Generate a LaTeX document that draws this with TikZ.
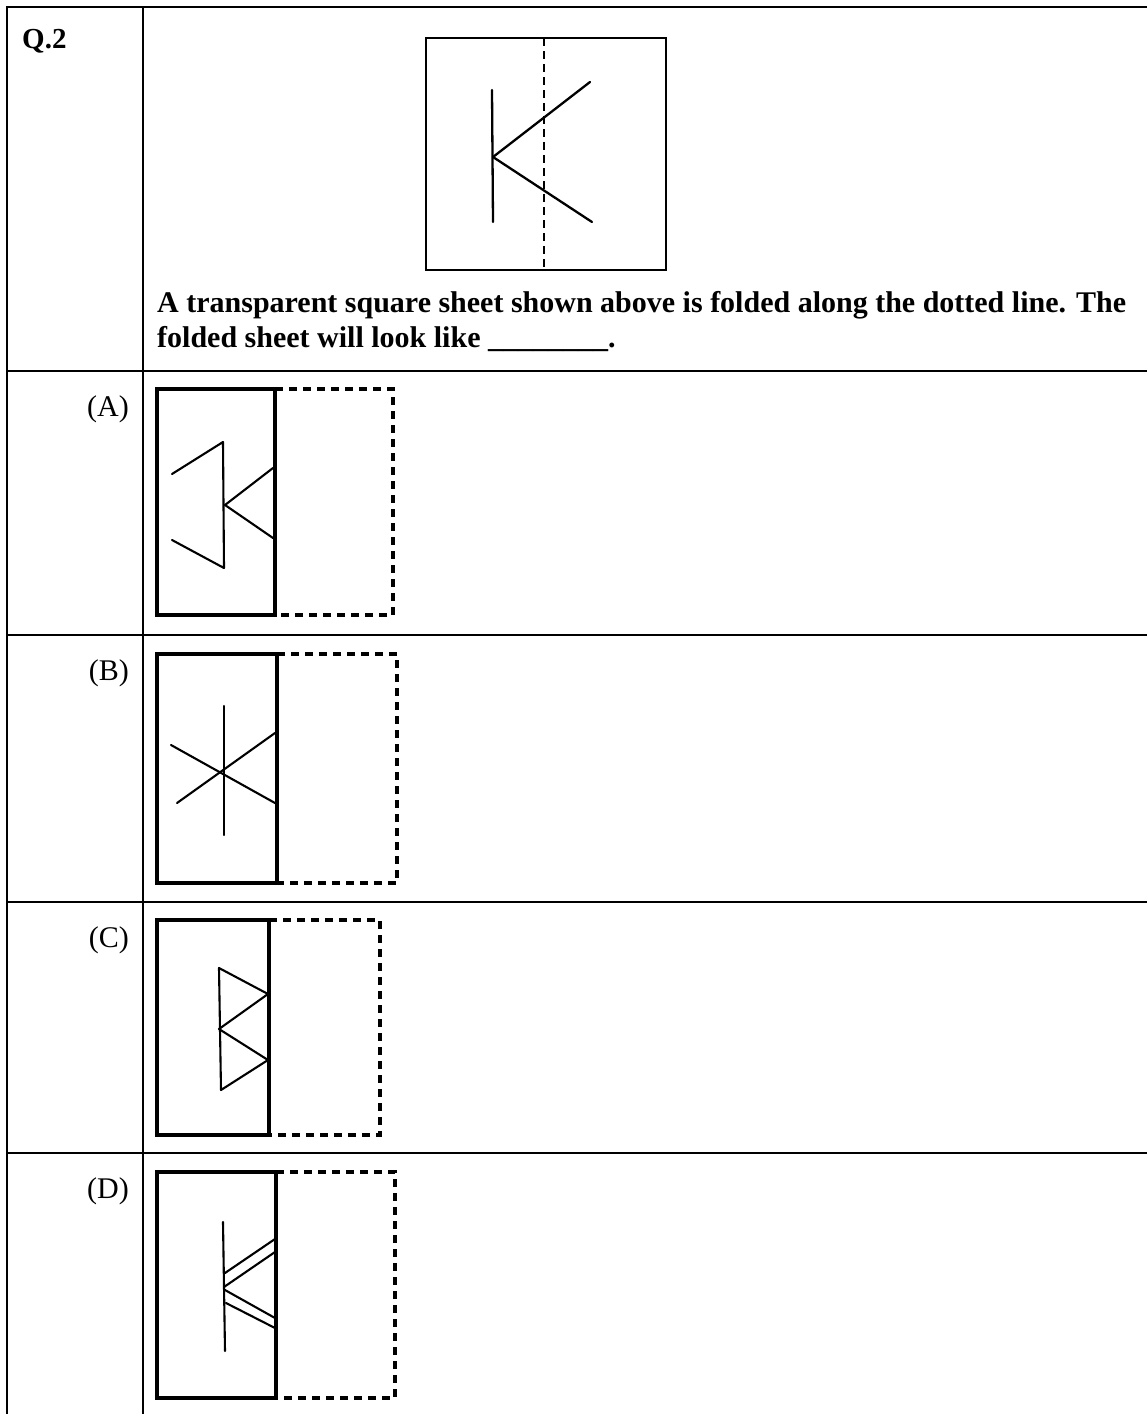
\documentclass[tikz,border=0pt]{standalone}
\usepackage{fontspec}
\setmainfont{Liberation Serif}
\begin{document}
\begin{tikzpicture}[x=1pt,y=-1pt,
  tbl/.style={line width=2pt},
  sheet/.style={line width=3.6pt, line cap=rect, line join=miter},
  foldline/.style={line width=3.5pt, dash pattern=on 8pt off 6pt},
  figline/.style={line width=2.1pt, line cap=round, line join=round},
  qline/.style={line width=2.3pt, line cap=round, line join=round},
  optlabel/.style={anchor=base east, inner sep=0pt, font=\fontsize{30}{34}\selectfont},
  qtext/.style={anchor=base west, inner sep=0pt, font=\fontsize{30}{34}\selectfont\bfseries}
]
\useasboundingbox (0,0) rectangle (1147,1414);
% table
\draw[tbl] (1147,7) -- (7,7) -- (7,1414);
\draw[tbl] (143,7) -- (143,1414);
\draw[tbl] (7,371) -- (1147,371);
\draw[tbl] (7,635) -- (1147,635);
\draw[tbl] (7,902) -- (1147,902);
\draw[tbl] (7,1153) -- (1147,1153);
% labels
\node[anchor=base west, inner sep=0pt, font=\fontsize{29}{32}\selectfont\bfseries] (q) at (22,48) {Q.2};
\node[optlabel] (la) at (129,416) {(A)};
\node[optlabel] (lb) at (129,680) {(B)};
\node[optlabel] (lc) at (129,947) {(C)};
\node[optlabel] (ld) at (129,1198) {(D)};
% question figure
\draw[line width=1.8pt] (426,38) rectangle (666,270);
\draw[line width=2pt, dash pattern=on 8pt off 5pt] (544,38) -- (544,270);
\draw[qline] (492,90) -- (493,222);
\draw[qline] (590,82) -- (493,157) -- (592,222);
% question text
\node[qtext] (t1) at (157,312) {A transparent square sheet shown above is folded along the dotted line. The};
\node[qtext] (t2) at (157,347) {folded sheet will look like \_\_\_\_\_\_\_\_.};
% option A
\draw[sheet] (157,389) rectangle (275,615);
\draw[foldline] (275,389) -- (393,389) -- (393,615) -- (275,615);
\draw[figline] (172,474) -- (223,442) -- (224,568) -- (172,540);
\draw[figline] (273,468) -- (225,505) -- (273,538);
% option B
\draw[sheet] (157,654) rectangle (277,883);
\draw[foldline] (277,654) -- (397,654) -- (397,883) -- (277,883);
\draw[figline] (224,706) -- (224,835);
\draw[figline] (171,745) -- (275,803);
\draw[figline] (177,803) -- (275,733);
% option C
\draw[sheet] (157,920) rectangle (269,1135);
\draw[foldline] (269,920) -- (380,920) -- (380,1135) -- (269,1135);
\draw[figline] (219,968) -- (221,1090);
\draw[figline] (219,968) -- (268,994) -- (219,1029) -- (268,1060) -- (221,1090);
% option D
\draw[sheet] (157,1172) rectangle (276,1398);
\draw[foldline] (276,1172) -- (395,1172) -- (395,1398) -- (276,1398);
\draw[figline] (223,1222) -- (225,1351);
\draw[figline] (225,1273) -- (275,1239);
\draw[figline] (224,1287) -- (275,1252);
\draw[figline] (225,1290) -- (275,1318);
\draw[figline] (226,1303) -- (275,1328);
\end{tikzpicture}
\end{document}
